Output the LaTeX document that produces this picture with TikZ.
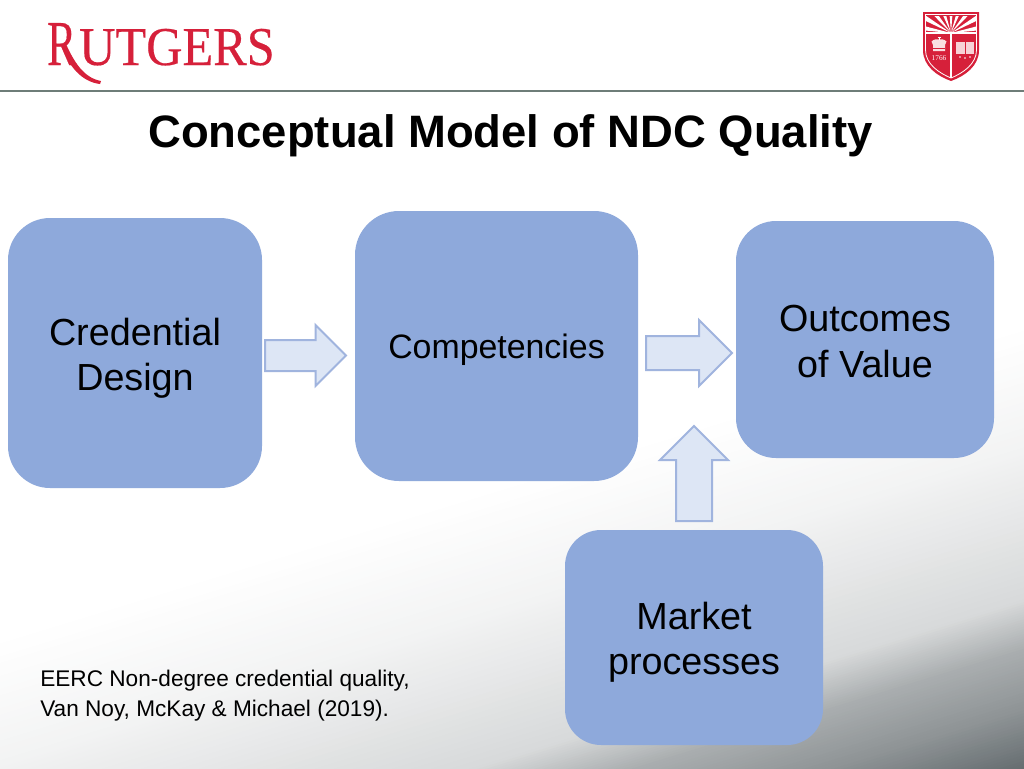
\documentclass[tikz,border=0pt]{standalone}
\usepackage{fontspec}
\setmainfont{Liberation Sans}
\newfontfamily\logofont[FakeBold=0.4]{Liberation Serif}
\newfontfamily\yearfont{Liberation Serif}
\usetikzlibrary{shapes.arrows}
\definecolor{boxblue}{RGB}{142,169,219}
\definecolor{arrowfill}{RGB}{221,230,245}
\definecolor{arrowline}{RGB}{160,180,222}
\definecolor{rured}{RGB}{214,32,58}
\definecolor{headline}{RGB}{110,125,120}
\tikzset{
  x=0.75pt,y=-0.75pt,
  bluebox/.style={draw=none,fill=boxblue,inner sep=0pt},
  boxtext/.style={align=center,inner sep=0pt,font=\fontsize{28.3}{34}\selectfont},
  blockarrow/.style={single arrow,draw=arrowline,fill=arrowfill,line width=1.5pt,inner xsep=0pt,outer sep=0pt,
    single arrow tip angle=90,single arrow head indent=0pt,anchor=tail},
  foot/.style={anchor=north west,align=left,inner sep=0pt,font=\fontsize{16.97}{22.5}\selectfont},
  logoletters/.style={text=rured,inner sep=0pt,anchor=base west},
}
\begin{document}
\begin{tikzpicture}
\useasboundingbox (0,0) rectangle (1024,768);
\fill[white] (0,0) rectangle (1024,768);
% diagonal background gradient: nested half-planes, light to dark
\begin{scope}
  \clip (0,0) rectangle (1024,768);
  \foreach \ta/\ga/\tb/\gb in {610/1.00/734/0.95,734/0.95/760/0.93,760/0.93/873/0.85,873/0.85/920/0.68,920/0.68/976/0.58,976/0.58/1033/0.43,1033/0.43/1100/0.37}{
    \foreach \k in {0,...,19}{
      \pgfmathsetmacro\tt{\ta+(\tb-\ta)*\k/20}
      \pgfmathsetmacro\gg{\ga+(\gb-\ga)*\k/20}
      \pgfmathsetmacro\rr{\gg-0.05*(1-\gg)}
      \pgfmathsetmacro\bb{\gg+0.02*(1-\gg)}
      \definecolor{bandc}{rgb}{\rr,\gg,\bb}
      \fill[bandc]
        ({\tt*0.292-2000*0.956},{\tt*0.956+2000*0.292}) --
        ({\tt*0.292+2000*0.956},{\tt*0.956-2000*0.292}) --
        ({\tt*0.292+2000*0.956+1500*0.292},{\tt*0.956-2000*0.292+1500*0.956}) --
        ({\tt*0.292-2000*0.956+1500*0.292},{\tt*0.956+2000*0.292+1500*0.956}) -- cycle;
    }
  }
\end{scope}
% header
\draw[headline,line width=1.8pt] (0,91) -- (1024,91);
\node[logoletters,xscale=0.68] (logoR) at (47,65) {\logofont\fontsize{48}{48}\selectfont R};
\node[logoletters,anchor=base east,xscale=0.92] (logoW) at (275,65) {\logofont\fontsize{41}{41}\selectfont UTGERS};
\fill[rured] (66,44) .. controls (74,62) and (84,78) .. (101,81) -- (100,84) .. controls (82,82) and (68,66) .. (62,46) -- cycle;
% shield
\fill[rured] (923,12) -- (979,12) -- (979,50) .. controls (979,66) and (965,76) .. (951,81) .. controls (937,76) and (923,66) .. (923,50) -- cycle;
\draw[white,line width=0.6pt] (925.5,14.5) -- (976.5,14.5) -- (976.5,50) .. controls (976.5,64) and (963,73) .. (951,78) .. controls (939,73) and (925.5,64) .. (925.5,50) -- cycle;
\draw[white,line width=0.8pt] (925.5,33) -- (976.5,33);
\draw[white,line width=1.1pt] (951,33) -- (951,78);
\begin{scope}
  \clip (926,16) rectangle (976,32);
  \foreach \a in {10,30,50,70,90,110,130,150,170}{
    \fill[white] (951,33) -- ({951+60*cos(\a-4.5)},{33-60*sin(\a-4.5)}) -- ({951+60*cos(\a+4.5)},{33-60*sin(\a+4.5)}) -- cycle;
  }
\end{scope}
\fill[white!85!rured] (933,45) -- (931.5,41.5) .. controls (934,39) and (937,39) .. (939,39.5) .. controls (941,39) and (944,39) .. (946.5,41.5) -- (945,45) -- (945,51) -- (933,51) -- cycle;
\draw[white,line width=0.6pt] (939,39.5) -- (939,36.5) (937.5,37.5) -- (940.5,37.5);
\draw[rured,line width=0.5pt] (933,48) -- (945,48);
\node[text=white,font=\fontsize{5.5}{5.5}\selectfont\yearfont,inner sep=0pt] (year) at (939,58) {1766};
\fill[white!80!rured] (956,42) rectangle (974,54);
\draw[rured,line width=0.7pt] (965,42) -- (965,54);
\foreach \dx in {-5,0,5}{\fill[white] ({965+\dx},{58-abs(\dx)*0.2}) circle[radius=0.9];}
% title
\node[font=\fontsize{34.07}{40}\selectfont\bfseries,inner sep=0pt] (title) at (510.5,135.5) {Conceptual Model of NDC Quality};
% boxes
\node[bluebox,rounded corners=42*0.75pt,minimum width=254*0.75pt,minimum height=270*0.75pt,
  label={[boxtext,yshift=-3.75pt]center:{Credential\\Design}}] (design) at (135,353) {};
\node[bluebox,rounded corners=44*0.75pt,minimum width=283*0.75pt,minimum height=270*0.75pt,
  label={[boxtext,font=\fontsize{25.4}{30}\selectfont,yshift=-3pt]center:{Competencies}}] (comp) at (496.5,346) {};
\node[bluebox,rounded corners=40*0.75pt,minimum width=258*0.75pt,minimum height=237*0.75pt,
  label={[boxtext,yshift=-1.5pt]center:{Outcomes\\of Value}}] (outcomes) at (865,339.5) {};
\node[bluebox,rounded corners=36*0.75pt,minimum width=258*0.75pt,minimum height=215*0.75pt,
  label={[boxtext,yshift=-3.75pt]center:{Market\\processes}}] (market) at (694,637.5) {};
% block arrows
\node[blockarrow,minimum height=81*0.75pt,inner ysep=14.5*0.75pt,single arrow head extend=15*0.75pt] (arrowA) at (265,355.5) {};
\node[blockarrow,minimum height=86*0.75pt,inner ysep=16*0.75pt,single arrow head extend=16*0.75pt] (arrowB) at (646,353) {};
\node[blockarrow,rotate=90,minimum height=95*0.75pt,inner ysep=17*0.75pt,single arrow head extend=16*0.75pt] (arrowC) at (694,521) {};
% footer
\node[foot] (note) at (40,670) {EERC Non-degree credential quality,\\Van Noy, McKay \& Michael (2019).};
\end{tikzpicture}
\end{document}
